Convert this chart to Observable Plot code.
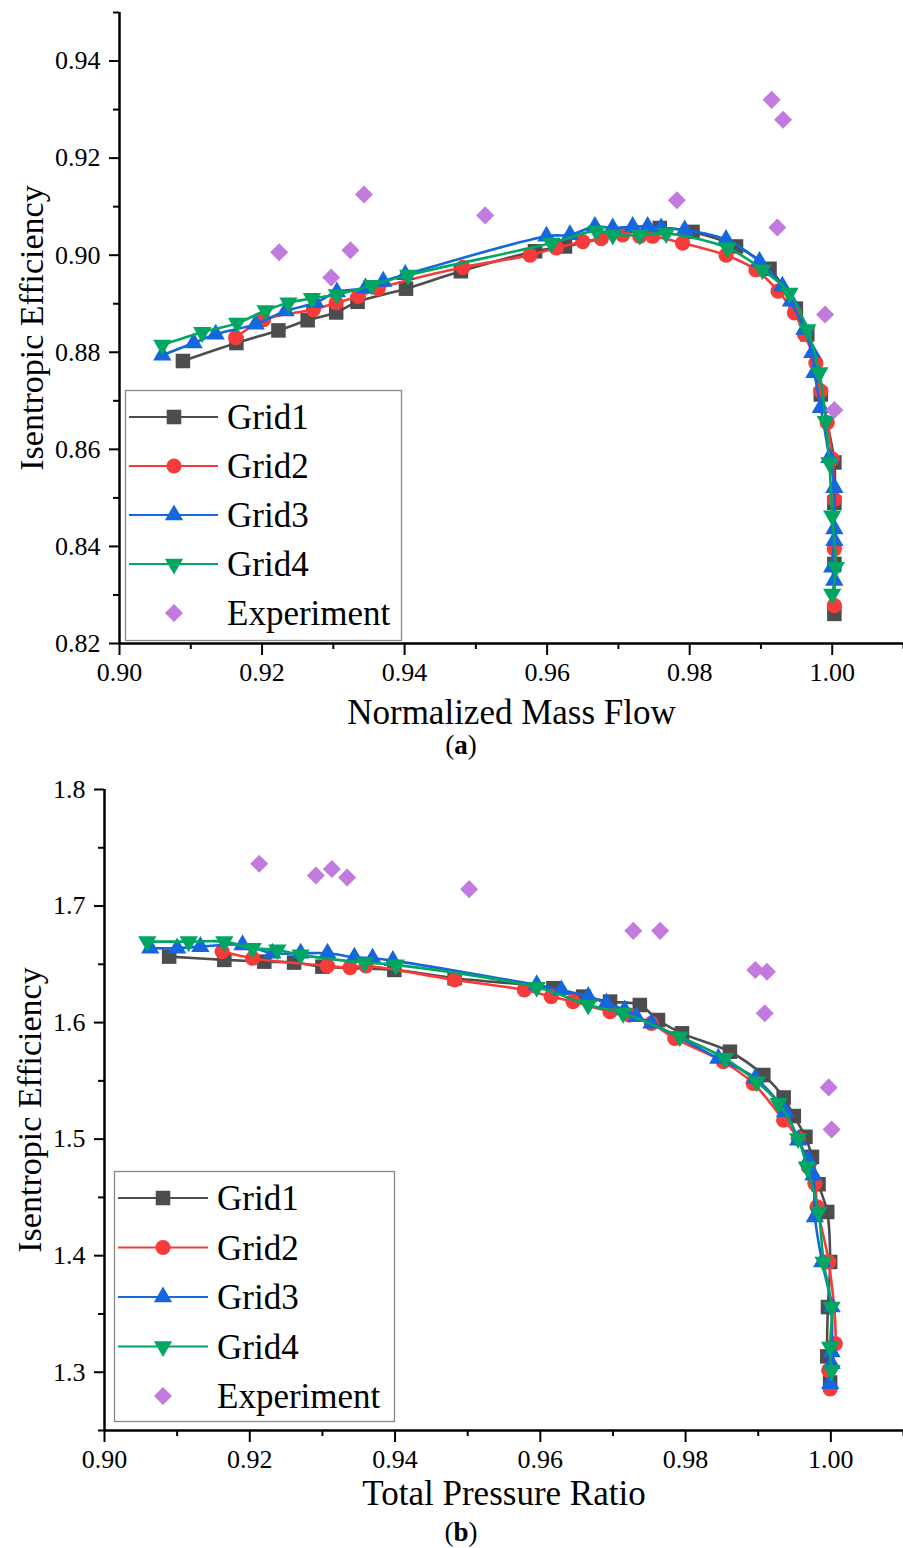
<!DOCTYPE html>
<html>
<head>
<meta charset="utf-8">
<script src="https://cdn.jsdelivr.net/npm/d3@7"></script>
<script src="https://cdn.jsdelivr.net/npm/@observablehq/plot@0.6"></script>
<style>
  html, body { margin: 0; padding: 0; background: #fff; }
  #page { position: relative; width: 903px; height: 1548px; font-family: 'Liberation Serif', serif; }
  .cap { position: absolute; width: 60px; text-align: center; font-size: 27px; line-height: 27px; color: #000; font-family: 'Liberation Serif', serif; }
  svg { display: block; }
  #page svg text { font-family: 'Liberation Serif', serif !important; }
  #page svg text.tick-num { font-size: 26px !important; }
</style>
</head>
<body>
<div id="page"></div>
<script>
// ---------------- DATA: panel (a) Normalized Mass Flow vs Isentropic Efficiency ----------------
const aGrid1X = [0.9089,0.9164,0.9223,0.9264,0.9304,0.9334,0.9402,0.9479,0.9583,0.9625,0.9758,0.9804,0.9865,0.9912,0.9949,0.9965,0.9984,1.0003,1.0003,1.0003,1.0003];
const aGrid1Y = [0.8782,0.8819,0.8845,0.8866,0.8882,0.8904,0.8931,0.8967,0.9008,0.9018,0.9056,0.9048,0.9018,0.8972,0.8890,0.8837,0.8713,0.8573,0.8490,0.8364,0.8261];
const aGrid2X = [0.9163,0.9202,0.9272,0.9304,0.9335,0.9363,0.9482,0.9576,0.9613,0.9650,0.9676,0.9706,0.9730,0.9748,0.9790,0.9851,0.9893,0.9924,0.9947,0.9961,0.9977,0.9984,0.9993,1.0000,1.0003,1.0003,1.0003];
const aGrid2Y = [0.8830,0.8867,0.8888,0.8902,0.8915,0.8931,0.8975,0.9000,0.9015,0.9028,0.9034,0.9042,0.9039,0.9039,0.9025,0.9000,0.8970,0.8926,0.8881,0.8837,0.8778,0.8720,0.8655,0.8580,0.8497,0.8395,0.8278];
const aGrid3X = [0.9060,0.9104,0.9135,0.9191,0.9233,0.9275,0.9305,0.9345,0.9370,0.9401,0.9599,0.9632,0.9667,0.9692,0.9720,0.9741,0.9760,0.9793,0.9851,0.9898,0.9930,0.9942,0.9961,0.9972,0.9975,0.9984,0.9996,1.0003,1.0003,1.0003,1.0000,1.0003];
const aGrid3Y = [0.8794,0.8819,0.8837,0.8858,0.8885,0.8902,0.8924,0.8932,0.8946,0.8960,0.9039,0.9042,0.9059,0.9056,0.9059,0.9059,0.9056,0.9052,0.9032,0.8987,0.8936,0.8905,0.8847,0.8799,0.8758,0.8686,0.8583,0.8521,0.8436,0.8412,0.8357,0.8330];
const aGrid4X = [0.9060,0.9116,0.9165,0.9205,0.9237,0.9270,0.9305,0.9354,0.9405,0.9606,0.9669,0.9692,0.9730,0.9767,0.9853,0.9902,0.9940,0.9965,0.9982,0.9991,0.9996,1.0000,1.0005,1.0000];
const aGrid4Y = [0.8815,0.8841,0.8860,0.8886,0.8902,0.8911,0.8919,0.8938,0.8959,0.9025,0.9050,0.9042,0.9042,0.9045,0.9015,0.8970,0.8922,0.8847,0.8758,0.8658,0.8573,0.8463,0.8357,0.8302];
const aExpX = [0.9224,0.9297,0.9324,0.9343,0.9513,0.9782,0.9915,0.9931,0.9923,0.9990,1.0003];
const aExpY = [0.9006,0.8954,0.9010,0.9125,0.9082,0.9113,0.9320,0.9279,0.9057,0.8878,0.8681];

// ---------------- DATA: panel (b) Total Pressure Ratio vs Isentropic Efficiency ----------------
const bGrid1X = [0.9089,0.9165,0.9220,0.9261,0.9300,0.9399,0.9482,0.9618,0.9659,0.9696,0.9737,0.9762,0.9795,0.9861,0.9907,0.9935,0.9949,0.9965,0.9974,0.9983,0.9995,0.9999,0.9996,0.9995,0.9999];
const bGrid1Y = [1.6566,1.6538,1.6523,1.6515,1.6480,1.6452,1.6381,1.6295,1.6223,1.6180,1.6151,1.6022,1.5908,1.5750,1.5550,1.5357,1.5198,1.5020,1.4848,1.4613,1.4375,1.3946,1.3559,1.3136,1.2912];
const bGrid2X = [0.9162,0.9204,0.9307,0.9338,0.9360,0.9482,0.9578,0.9615,0.9645,0.9696,0.9723,0.9753,0.9785,0.9852,0.9893,0.9935,0.9955,0.9969,0.9978,0.9981,0.9997,1.0006,0.9997,0.9999];
const bGrid2Y = [1.6609,1.6552,1.6486,1.6472,1.6486,1.6366,1.6280,1.6223,1.6180,1.6094,1.6065,1.5994,1.5865,1.5664,1.5479,1.5163,1.5006,1.4762,1.4619,1.4418,1.3946,1.3245,1.3016,1.2858];
const bGrid3X = [0.9063,0.9100,0.9132,0.9190,0.9231,0.9270,0.9307,0.9344,0.9369,0.9397,0.9595,0.9629,0.9666,0.9691,0.9716,0.9732,0.9753,0.9845,0.9896,0.9937,0.9955,0.9969,0.9976,0.9978,0.9988,1.0001,1.0001,1.0001,0.9999];
const bGrid3Y = [1.6638,1.6638,1.6652,1.6667,1.6595,1.6595,1.6595,1.6561,1.6552,1.6532,1.6323,1.6280,1.6223,1.6166,1.6108,1.6051,1.5994,1.5693,1.5522,1.5235,1.4991,1.4820,1.4690,1.4333,1.3946,1.3559,1.3173,1.3073,1.2901];
const bGrid4X = [0.9059,0.9116,0.9165,0.9204,0.9238,0.9270,0.9358,0.9401,0.9595,0.9666,0.9714,0.9792,0.9854,0.9898,0.9928,0.9955,0.9967,0.9983,0.9990,1.0001,0.9999,1.0001];
const bGrid4Y = [1.6695,1.6695,1.6695,1.6638,1.6624,1.6581,1.6515,1.6495,1.6303,1.6151,1.6080,1.5879,1.5693,1.5492,1.5307,1.5006,1.4762,1.4375,1.3946,1.3559,1.3216,1.3016];
const bExpX = [0.9213,0.9291,0.9313,0.9334,0.9502,0.9728,0.9765,0.9896,0.9912,0.9909,0.9997,1.0001];
const bExpY = [1.7363,1.7262,1.7317,1.7245,1.7145,1.6787,1.6787,1.6452,1.6437,1.6080,1.5444,1.5083];

// ---------------- TICKS ----------------
const xMajor = [0.90,0.92,0.94,0.96,0.98,1.00];
const xMinor = [0.91,0.93,0.95,0.97,0.99,1.01];
const aYMajor = [0.82,0.84,0.86,0.88,0.90,0.92,0.94];
const aYMinor = [0.83,0.85,0.87,0.89,0.91,0.93,0.95];
const bYMajor = [1.3,1.4,1.5,1.6,1.7,1.8];
const bYMinor = [1.25,1.35,1.45,1.55,1.65,1.75];
const xDomain = [0.90, 1.01];
const aYDomain = [0.82, 0.95];
const bYDomain = [1.25, 1.80];

const seriesNames = ["Grid1","Grid2","Grid3","Grid4","Experiment"];
const colors = ["#4d4d4d","#f73b3b","#1467dc","#00a661","#c27ade"];

// ---------------- BUILD ----------------
const rows = (xs, ys) => xs.map((x, i) => ({x, y: ys[i]}));
const FONT = "'Liberation Serif', serif";
// symbol styles: [symbol, r, rotate]
const sym = [["square", 8.2, 0], ["circle", 7.6, 0], ["triangle", 6.8, 0], ["triangle", 6.8, 180], ["square", 7.2, 45]];

function seriesMarks(data, k, withLine) {
  const m = [];
  if (withLine) m.push(Plot.line(data, {x: "x", y: "y", stroke: colors[k], strokeWidth: 2.6, curve: "catmull-rom"}));
  m.push(Plot.dot(data, {x: "x", y: "y", symbol: sym[k][0], r: sym[k][1], rotate: sym[k][2], fill: colors[k], stroke: "none"}));
  return m;
}

function panel(opts) {
  const sets = opts.sets;
  return Plot.plot({
    width: 903,
    height: opts.height,
    marginTop: opts.marginTop,
    marginBottom: opts.marginBottom,
    marginLeft: opts.marginLeft,
    marginRight: 0,
    style: {fontFamily: FONT, fontSize: "26px", background: "white", color: "black", overflow: "visible"},
    x: {domain: xDomain},
    y: {domain: opts.yDomain},
    marks: [
      Plot.axisX(xMajor, {tickSize: 12, tickPadding: 7, tickFormat: d3.format(".2f"), fontSize: 26, strokeWidth: 2, label: null}),
      Plot.axisX(xMinor, {tickSize: 6, tickFormat: () => "", strokeWidth: 2, label: null}),
      Plot.axisY(opts.yMajor, {tickSize: 10, tickPadding: 9, tickFormat: opts.yFormat, fontSize: 26, strokeWidth: 2, label: null}),
      Plot.axisY(opts.yMinor, {tickSize: 6, tickFormat: () => "", strokeWidth: 2, label: null}),
      Plot.ruleY([opts.yDomain[0]], {stroke: "black", strokeWidth: 2.5}),
      Plot.ruleX([xDomain[0]], {stroke: "black", strokeWidth: 2.5}),
      Plot.text([opts.yLabel], {frameAnchor: "left", dx: opts.yLabelDx, rotate: -90, textAnchor: "middle", fontSize: 34, fill: "black", lineAnchor: "middle"}),
      Plot.text([opts.xLabel], {frameAnchor: "bottom", dy: opts.xLabelDy, textAnchor: "middle", fontSize: 35, fill: "black", lineAnchor: "middle"}),
      ...seriesMarks(sets[0], 0, true),
      ...seriesMarks(sets[1], 1, true),
      ...seriesMarks(sets[2], 2, true),
      ...seriesMarks(sets[3], 3, true),
      ...seriesMarks(sets[4], 4, false)
    ]
  });
}

// Tag numeric tick labels so the stylesheet can enlarge them
function fixTickFonts(svg) {
  svg.querySelectorAll("text").forEach(t => {
    if (/^[0-9.]+$/.test(t.textContent.trim())) {
      t.classList.add("tick-num");
      t.setAttribute("font-size", "26");
      t.style.fontSize = "26px";
      t.style.fontFamily = FONT;
    }
  });
}

const page = document.getElementById("page");

const chartA = panel({
  height: 728, marginTop: 12, marginBottom: 85, marginLeft: 119,
  yDomain: aYDomain, yMajor: aYMajor, yMinor: aYMinor, yFormat: d3.format(".2f"),
  yLabel: "Isentropic Efficiency", yLabelDx: -87,
  xLabel: "Normalized Mass Flow", xLabelDy: 69,
  sets: [rows(aGrid1X, aGrid1Y), rows(aGrid2X, aGrid2Y), rows(aGrid3X, aGrid3Y), rows(aGrid4X, aGrid4Y), rows(aExpX, aExpY)]
});
chartA.style.position = "absolute"; chartA.style.left = "0px"; chartA.style.top = "0px";
page.appendChild(chartA);
fixTickFonts(chartA);

const chartB = panel({
  height: 761, marginTop: 32, marginBottom: 88, marginLeft: 104,
  yDomain: bYDomain, yMajor: bYMajor, yMinor: bYMinor, yFormat: d3.format(".1f"),
  yLabel: "Isentropic Efficiency", yLabelDx: -74,
  xLabel: "Total Pressure Ratio", xLabelDy: 63,
  sets: [rows(bGrid1X, bGrid1Y), rows(bGrid2X, bGrid2Y), rows(bGrid3X, bGrid3Y), rows(bGrid4X, bGrid4Y), rows(bExpX, bExpY)]
});
chartB.style.position = "absolute"; chartB.style.left = "0px"; chartB.style.top = "757px";
page.appendChild(chartB);
fixTickFonts(chartB);

// captions
function caption(letter, top) {
  const d = document.createElement("div");
  d.className = "cap";
  d.style.left = (461 - 30) + "px";
  d.style.top = top + "px";
  d.innerHTML = "(<b>" + letter + "</b>)";
  page.appendChild(d);
}
caption("a", 732);
caption("b", 1519);

// legends (overlay)
const overlay = d3.select(page).append("svg")
  .attr("width", 903).attr("height", 1548)
  .style("position", "absolute").style("left", "0px").style("top", "0px")
  .style("pointer-events", "none");

function legend(box) {
  const g = overlay.append("g");
  g.append("rect").attr("x", box.x0 + 0.5).attr("y", box.y0 + 0.5)
    .attr("width", box.x1 - box.x0).attr("height", box.y1 - box.y0)
    .attr("fill", "white").attr("stroke", "#888").attr("stroke-width", 1.3);
  seriesNames.forEach((name, k) => {
    const y = box.rowY0 + k * box.step;
    if (k < 4) {
      g.append("line").attr("x1", box.lx0).attr("x2", box.lx1).attr("y1", y).attr("y2", y)
        .attr("stroke", colors[k]).attr("stroke-width", 2.2);
    }
    const symType = {square: d3.symbolSquare, circle: d3.symbolCircle, triangle: d3.symbolTriangle}[sym[k][0]];
    const r = sym[k][1];
    g.append("path").attr("d", d3.symbol(symType, Math.PI * r * r)())
      .attr("transform", `translate(${box.mx},${y}) rotate(${sym[k][2]})`)
      .attr("fill", colors[k]);
    g.append("text").attr("x", box.tx).attr("y", y).attr("dy", "0.35em")
      .attr("font-family", FONT).attr("font-size", 35).attr("fill", "black").text(name);
  });
}
legend({x0: 125, y0: 390, x1: 401, y1: 640, rowY0: 417, step: 49, lx0: 129, lx1: 218, mx: 174, tx: 227});
legend({x0: 114, y0: 1171, x1: 394, y1: 1421, rowY0: 1198, step: 49.5, lx0: 118, lx1: 208, mx: 163, tx: 217});
</script>
</body>
</html>
